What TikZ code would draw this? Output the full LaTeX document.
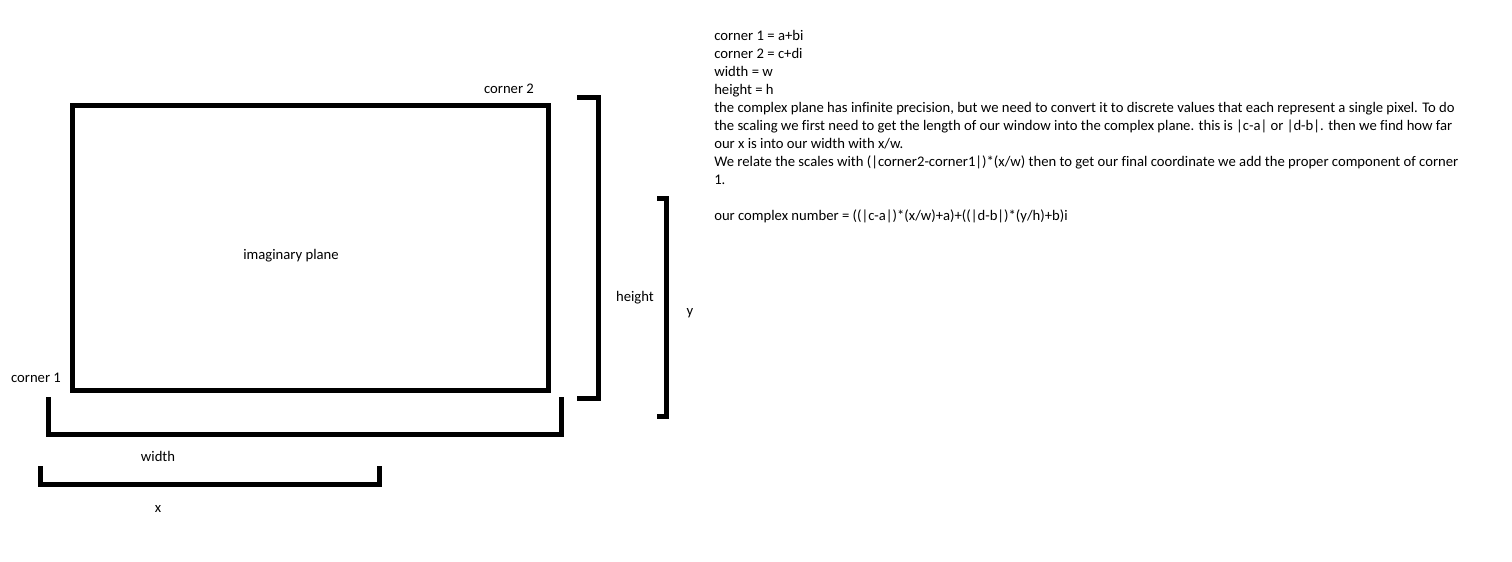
\documentclass[tikz,border=0pt]{standalone}
\usepackage{fontspec}
\setmainfont[Ligatures=NoCommon]{Carlito}
\begin{document}
\begin{tikzpicture}[x=0.75pt,y=-0.75pt,
  thick line/.style={line width=3.75pt,line join=miter,line cap=butt},
  lbl/.style={inner sep=0pt,anchor=base,font=\fontsize{11pt}{13.5pt}\selectfont},
  txt/.style={inner sep=0pt,anchor=base west,font=\fontsize{11pt}{13.5pt}\selectfont}]
\useasboundingbox[fill=white] (0,0) rectangle (1512,561);
% imaginary plane rectangle
\draw[thick line] (72,105) rectangle (548,390);
% height bracket
\draw[thick line] (577,97) -- (598,97) -- (598,398) -- (577,398);
% y bracket
\draw[thick line] (657,198) -- (666,198) -- (666,416) -- (657,416);
% width bracket
\draw[thick line] (48,397) -- (48,434) -- (561,434) -- (561,397);
% x bracket
\draw[thick line] (40,466) -- (40,484) -- (379,484) -- (379,466);
% labels
\node[lbl] (c2) at (509,93) {corner 2};
\node[lbl] (c1) at (36,382) {corner 1};
\node[lbl] (ip) at (291,259) {imaginary plane};
\node[lbl] (ht) at (635,301) {height};
\node[lbl] (yl) at (690,315) {y};
\node[lbl] (wd) at (158,461) {width};
\node[lbl] (xl) at (158,512) {x};
% explanation text
\node[txt] (t1) at (714,40) {corner 1 = a+bi};
\node[txt] (t2) at (714,58) {corner 2 = c+di};
\node[txt] (t3) at (714,76) {width = w};
\node[txt] (t4) at (714,94) {height = h};
\node[txt] (t5) at (714,112) {the complex plane has infinite precision, but we need to convert it to discrete values that each represent a single pixel. To do};
\node[txt] (t6) at (714,130) {the scaling we first need to get the length of our window into the complex plane. this is |c-a| or |d-b|. then we find how far};
\node[txt] (t7) at (714,148) {our x is into our width with x/w.};
\node[txt] (t8) at (714,166) {We relate the scales with (|corner2-corner1|)*(x/w) then to get our final coordinate we add the proper component of corner};
\node[txt] (t9) at (714,184) {1.};
\node[txt] (t10) at (714,220) {our complex number = ((|c-a|)*(x/w)+a)+((|d-b|)*(y/h)+b)i};
\end{tikzpicture}
\end{document}
